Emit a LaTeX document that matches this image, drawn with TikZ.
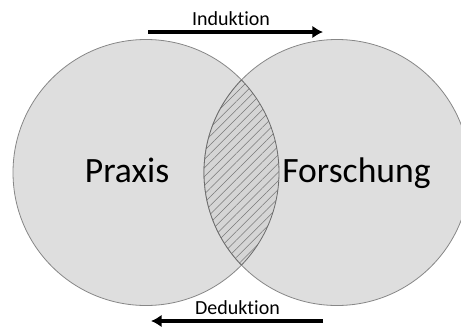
\documentclass[tikz,border=0pt]{standalone}
\usepackage{fontspec}
\setmainfont{Carlito}[RawFeature={-liga;-clig;-calt}]
\usepackage{xcolor}
\usetikzlibrary{arrows.meta,positioning,patterns.meta}
\definecolor{ringfill}{RGB}{222,222,222}
\definecolor{ringline}{RGB}{135,135,135}
\definecolor{hatch}{RGB}{120,120,120}

\begin{document}
\begin{tikzpicture}[x=0.75pt,y=-0.75pt,
    ring/.style={circle,draw=ringline,line width=0.6pt,fill=ringfill,minimum size=199.5pt,inner sep=0pt},
    big/.style={font=\fontsize{26.7}{30}\selectfont,anchor=base},
    small/.style={font=\fontsize{15}{18}\selectfont,anchor=base},
    flow/.style={-{Latex[length=8pt,width=9.5pt]},line width=3.4pt,draw=black}]
   \useasboundingbox (0,0) rectangle (461,329);
   \node[ring] (P) at (146,172.5) {};
   \node[ring] (F) at (337,172.5) {};
   % overlap of both circles
   \begin{scope}
     \clip (P.center) circle[radius=133];
     \fill[ringfill!96!black] (F.center) circle[radius=133];
     \fill[pattern={Lines[angle=45,distance=4.6pt,line width=0.4pt]},pattern color=hatch] (F.center) circle[radius=133];
     \draw[ringline!80!black,line width=0.6pt] (F.center) circle[radius=133];
   \end{scope}
   \begin{scope}
     \clip (F.center) circle[radius=133];
     \draw[ringline!80!black,line width=0.6pt] (P.center) circle[radius=133];
   \end{scope}
   \node[big] (tP) at (127,182) {Praxis};
   \node[big] (tF) at (356.5,182) {Forschung};
   % arrows
   \coordinate (i1) at (148,32);
   \coordinate (i2) at (323,32);
   \coordinate (d1) at (323,321);
   \coordinate (d2) at (151,321);
   \draw[flow] (i1) -- (i2);
   \draw[flow] (d1) -- (d2);
   \node[small] (tI) at (231,25) {Induktion};
   \node[small] (tD) at (237.5,314) {Deduktion};
  \end{tikzpicture}
\end{document}
